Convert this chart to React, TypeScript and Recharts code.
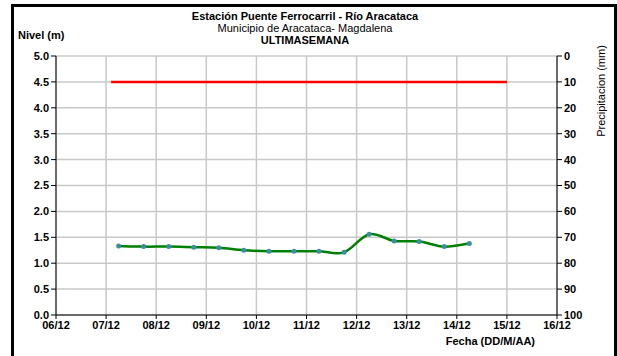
import { ComposedChart, Line, XAxis, YAxis, CartesianGrid } from "recharts";

const dateLabels = ["06/12", "07/12", "08/12", "09/12", "10/12", "11/12", "12/12", "13/12", "14/12", "15/12", "16/12"];
const dayTicks = [0, 1, 2, 3, 4, 5, 6, 7, 8, 9, 10];
const levelTicks = [0, 0.5, 1, 1.5, 2, 2.5, 3, 3.5, 4, 4.5, 5];
const rainTicks = [0, 10, 20, 30, 40, 50, 60, 70, 80, 90, 100];

// days after 06/12 (readings every 12 h) and river level in m
const readingDays = [1.25, 1.75, 2.25, 2.75, 3.25, 3.75, 4.25, 4.75, 5.25, 5.75, 6.25, 6.75, 7.25, 7.75, 8.25];
const levels = [1.33, 1.32, 1.32, 1.31, 1.3, 1.25, 1.23, 1.23, 1.23, 1.21, 1.56, 1.43, 1.42, 1.32, 1.38];
// no precipitation plotted this week
const rain: (number | null)[] = [null, null, null, null, null, null, null, null, null, null, null, null, null, null, null];

// alert level (red line)
const alertDays = [1.1, 9];
const alertLevels = [4.5, 4.5];

const levelData = readingDays.map((d, i) => ({ d, v: levels[i], r: rain[i] }));
const alertData = alertDays.map((d, i) => ({ d, v: alertLevels[i] }));

const font = "'Liberation Sans', Arial, sans-serif";
const tickStyle = { fontSize: 11, fontWeight: "bold", fill: "#000", fontFamily: font };

// excel-like smoothed line (catmull-rom)
function smoothCurve(ctx: any) {
  let pts: number[][] = [];
  return {
    areaStart() {},
    areaEnd() {},
    lineStart() { pts = []; },
    point(x: number, y: number) { pts.push([+x, +y]); },
    lineEnd() {
      if (!pts.length) return;
      ctx.moveTo(pts[0][0], pts[0][1]);
      for (let i = 0; i < pts.length - 1; i++) {
        const p0 = pts[i - 1] || pts[i];
        const p1 = pts[i];
        const p2 = pts[i + 1];
        const p3 = pts[i + 2] || p2;
        ctx.bezierCurveTo(
          p1[0] + (p2[0] - p0[0]) / 6, p1[1] + (p2[1] - p0[1]) / 6,
          p2[0] - (p3[0] - p1[0]) / 6, p2[1] - (p3[1] - p1[1]) / 6,
          p2[0], p2[1],
        );
      }
    },
  };
}

export default function App() {
  return (
    <div style={{ position: "absolute", left: 0, top: 0, width: 617, height: 356, overflow: "hidden", background: "#fff", fontFamily: font }}>
      <div style={{ position: "absolute", left: 11, top: 4, width: 606, height: 400, border: "3px solid #000", boxSizing: "border-box" }} />
      <div style={{ position: "absolute", left: 0, width: 610, top: 10, textAlign: "center", fontSize: 11, lineHeight: "12px", color: "#000" }}>
        <div style={{ fontWeight: "bold" }}>Estación Puente Ferrocarril - Río Aracataca</div>
        <div>Municipio de Aracataca- Magdalena</div>
        <div style={{ fontWeight: "bold" }}>ULTIMASEMANA</div>
      </div>
      <div style={{ position: "absolute", left: 18, top: 29, fontSize: 11, fontWeight: "bold" }}>Nivel (m)</div>
      <div style={{ position: "absolute", right: 82, top: 335, fontSize: 11, fontWeight: "bold" }}>Fecha (DD/M/AA)</div>
      <div style={{ position: "absolute", left: 601, top: 91, width: 0, height: 0 }}>
        <div style={{ position: "absolute", left: 0, top: 0, transform: "translate(-50%, -50%) rotate(-90deg)", whiteSpace: "nowrap", fontSize: 11 }}>
          Precipitacion (mm)
        </div>
      </div>
      <div style={{ position: "absolute", left: 0, top: 0 }}>
        <ComposedChart width={617} height={356} data={levelData} margin={{ top: 56, left: 11, right: 20, bottom: 21 }}>
          <CartesianGrid stroke="#c8c8c8" strokeWidth={1.5} yAxisId="lvl" />
          <XAxis
            dataKey="d"
            type="number"
            domain={[0, 10]}
            ticks={dayTicks}
            tickFormatter={(v: number) => dateLabels[v]}
            tick={tickStyle}
            stroke="#000"
            tickSize={4}
            height={20}
          />
          <YAxis
            yAxisId="lvl"
            orientation="left"
            domain={[0, 5]}
            ticks={levelTicks}
            tickFormatter={(v: number) => v.toFixed(1)}
            tick={tickStyle}
            stroke="#000"
            tickSize={5}
            width={45}
          />
          <YAxis
            yAxisId="rain"
            orientation="right"
            domain={[0, 100]}
            allowDataOverflow
            reversed
            ticks={rainTicks}
            tick={tickStyle}
            stroke="#000"
            tickSize={5}
            width={40}
          />
          <Line
            yAxisId="rain"
            dataKey="r"
            stroke="#0000ff"
            dot={false}
            connectNulls={false}
            isAnimationActive={false}
          />
          <Line
            yAxisId="lvl"
            data={alertData}
            dataKey="v"
            type="linear"
            stroke="#ff0000"
            strokeWidth={2.5}
            dot={false}
            isAnimationActive={false}
          />
          <Line
            yAxisId="lvl"
            dataKey="v"
            type={smoothCurve as any}
            stroke="#008000"
            strokeWidth={2.5}
            dot={{ r: 2.5, fill: "#3b8ea5", stroke: "none" }}
            isAnimationActive={false}
          />
        </ComposedChart>
      </div>
    </div>
  );
}
